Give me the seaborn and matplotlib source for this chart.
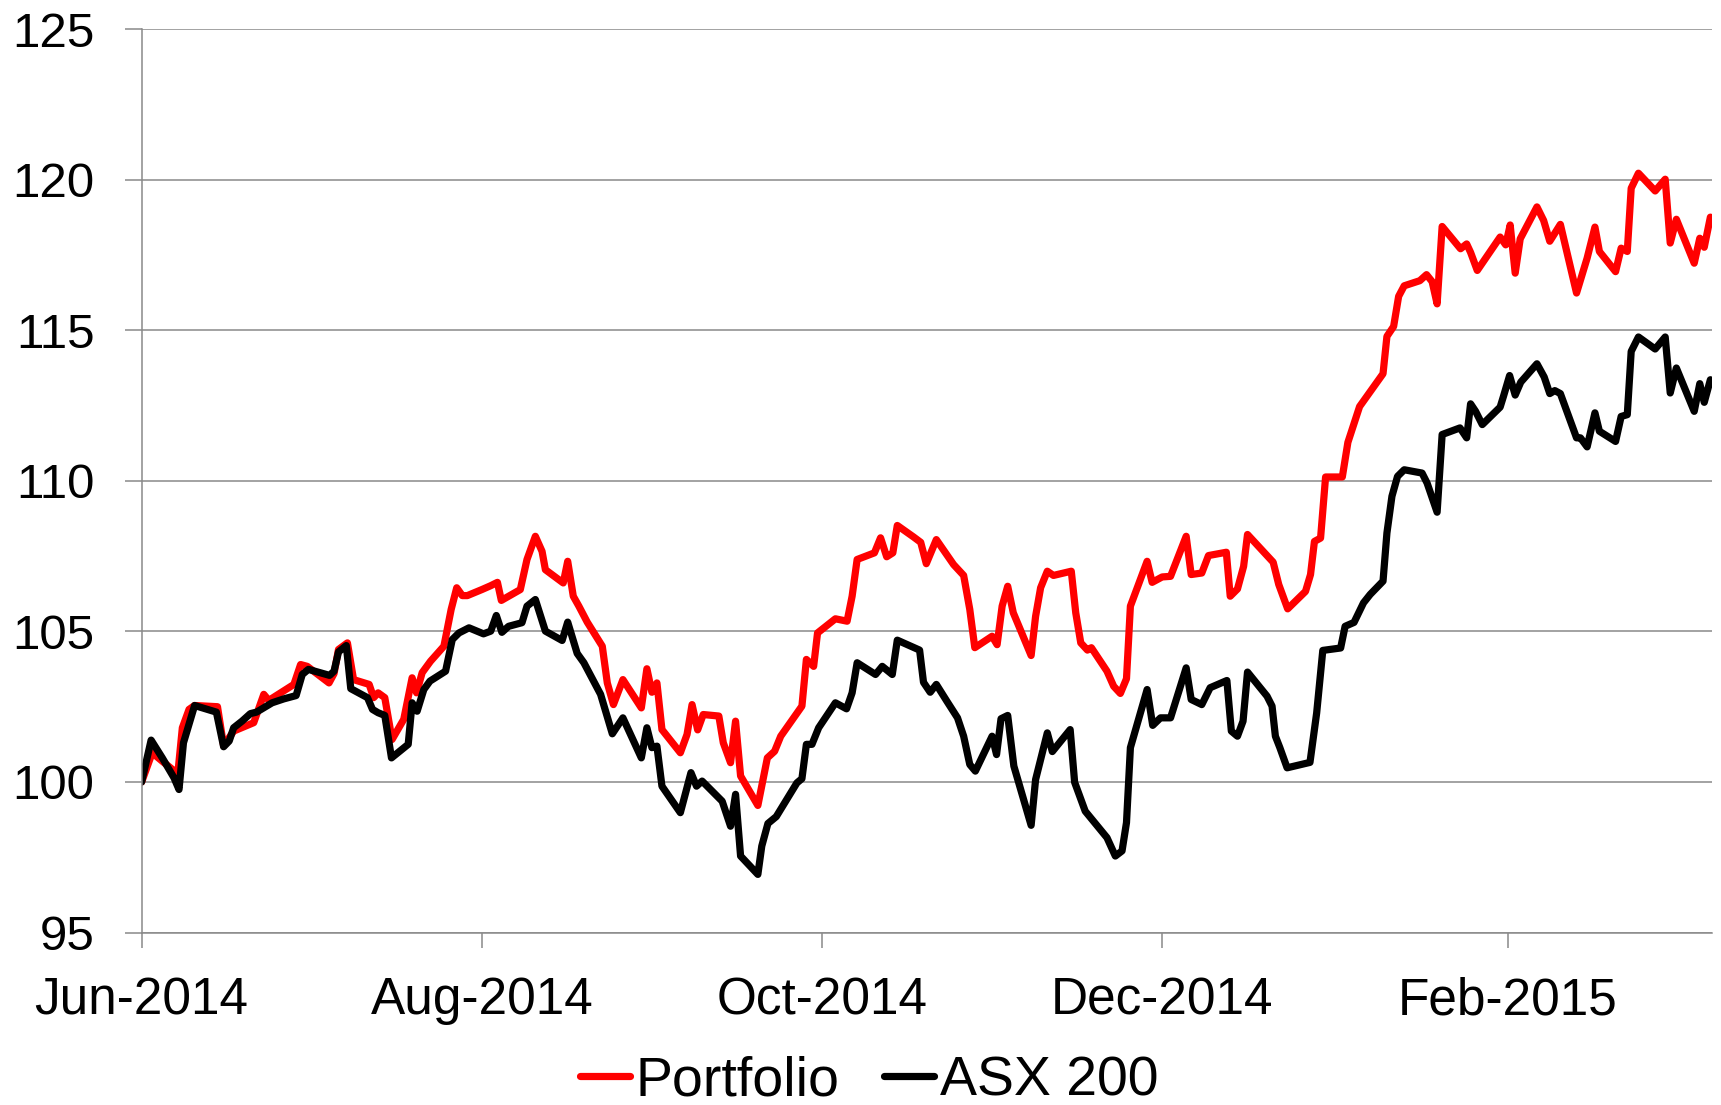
import pandas as pd
import numpy as np
import matplotlib
matplotlib.use("Agg")
import matplotlib.pyplot as plt
import matplotlib.dates as mdates
from matplotlib.lines import Line2D
import seaborn as sns

# Data: days since 2014-06-01 and index value (start = 100)
start_date = "2014-06-01"

portfolio_days = [
    0, 1.9, 3.7, 5.5, 6.5, 7.3, 8.5, 9.5, 13.6, 14.7, 16.5, 20.1, 21.9, 22.8, 27.3,
    28.5, 29.7, 33.6, 34.5, 35.3, 36.9, 38.0, 40.8, 41.6, 42.4, 43.6, 44.9, 47.0,
    48.5, 49.3, 50.3, 51.8, 54.2, 55.5, 56.5, 57.5, 58.4, 61.0, 62.6, 63.8, 64.5,
    67.9, 69.1, 70.6, 71.8, 72.4, 75.6, 76.4, 77.4, 78.4, 79.9, 82.6, 83.5, 84.6,
    86.3, 89.6, 90.6, 91.5, 92.4, 93.3, 96.6, 97.8, 98.7, 99.7, 100.7, 103.5, 104.3,
    105.6, 106.5, 107.4, 110.5, 112.2, 113.5, 114.6, 118.4, 119.2, 120.5, 121.2,
    124.4, 126.5, 127.4, 128.3, 131.4, 132.5, 133.6, 134.7, 135.5, 138.4, 139.7,
    140.7, 142.5, 145.6, 147.4, 148.5, 149.4, 152.5, 153.4, 154.3, 155.3, 156.3,
    159.5, 160.3, 161.2, 162.4, 163.5, 166.7, 167.5, 168.4, 169.6, 170.3, 173.1,
    174.3, 175.5, 176.6, 177.3, 180.3, 181.2, 183.0, 184.5, 187.3, 188.2, 190.1,
    191.3, 194.5, 195.2, 196.5, 197.6, 198.3, 201.9, 202.9, 203.9, 205.5, 208.7,
    209.6, 210.3, 211.4, 212.3, 215.3, 216.3, 218.4, 222.6, 223.3, 224.5, 225.4,
    226.4, 229.2, 230.4, 231.4, 232.3, 233.2, 236.5, 237.6, 238.3, 239.5, 243.6,
    244.6, 245.4, 246.3, 247.2, 250.2, 251.4, 252.5, 254.4, 257.3, 259.2, 260.6,
    261.4, 264.3, 265.3, 266.4, 267.1, 268.4, 271.4, 273.2, 274.1, 275.2, 278.4,
    279.4, 280.2, 281.3,
]
portfolio_vals = [
    100.0, 100.97, 100.69, 100.42, 100.3, 101.8, 102.41, 102.54, 102.5, 101.2,
    101.69, 101.97, 102.91, 102.71, 103.24, 103.9, 103.84, 103.29, 103.6, 104.4,
    104.62, 103.4, 103.24, 102.8, 102.96, 102.8, 101.41, 102.08, 103.46, 102.96,
    103.63, 104.01, 104.51, 105.73, 106.45, 106.19, 106.19, 106.39, 106.52, 106.63,
    106.03, 106.39, 107.39, 108.16, 107.66, 107.05, 106.61, 107.33, 106.17, 105.84,
    105.31, 104.51, 103.29, 102.57, 103.4, 102.46, 103.76, 102.98, 103.29, 101.74,
    100.97, 101.58, 102.57, 101.73, 102.24, 102.19, 101.3, 100.64, 102.02, 100.2,
    99.22, 100.8, 101.02, 101.52, 102.52, 104.07, 103.84, 104.95, 105.42, 105.34,
    106.17, 107.39, 107.61, 108.11, 107.48, 107.61, 108.52, 108.14, 107.96, 107.25,
    108.05, 107.22, 106.86, 105.73, 104.46, 104.84, 104.56, 105.84, 106.5, 105.62,
    104.2, 105.5, 106.45, 107.0, 106.86, 107.0, 105.62, 104.62, 104.38, 104.46,
    103.68, 103.18, 102.94, 103.43, 105.84, 107.33, 106.63, 106.81, 106.83, 108.16,
    106.89, 106.94, 107.52, 107.63, 106.17, 106.41, 107.16, 108.22, 107.5, 107.3,
    106.56, 105.75, 106.33, 106.89, 107.99, 108.1, 110.13, 110.13, 111.28, 112.47,
    113.56, 114.8, 115.13, 116.13, 116.48, 116.65, 116.85, 116.62, 115.88, 118.45,
    117.71, 117.87, 117.59, 116.99, 118.1, 117.84, 118.5, 116.9, 118.04, 119.1,
    118.65, 117.96, 118.52, 116.24, 117.4, 118.43, 117.62, 116.95, 117.73, 117.62,
    119.72, 120.22, 119.63, 120.02, 117.9, 118.69, 117.23, 118.06, 117.76, 118.76,
]

asx_days = [
    0, 1.7, 3.7, 5.8, 6.7, 7.5, 9.5, 13.4, 14.7, 15.7, 16.5, 18.0, 19.5, 20.6, 23.4,
    25.5, 27.7, 28.8, 29.9, 33.7, 34.5, 35.3, 36.7, 37.5, 40.5, 41.4, 42.4, 43.6,
    44.8, 47.8, 48.5, 49.4, 50.6, 51.7, 54.5, 55.7, 56.9, 58.7, 61.3, 62.6, 63.6,
    64.6, 65.8, 68.2, 69.1, 70.6, 72.4, 75.4, 76.4, 78.1, 79.3, 82.3, 84.4, 86.3,
    89.6, 90.6, 91.5, 92.4, 93.3, 96.6, 98.5, 99.5, 100.5, 104.1, 105.6, 106.5,
    107.4, 110.5, 111.2, 112.3, 113.8, 117.5, 118.4, 119.2, 120.2, 121.4, 124.4,
    126.4, 127.4, 128.3, 131.6, 132.8, 134.6, 135.5, 139.5, 140.2, 141.4, 142.5,
    144.4, 146.3, 147.4, 148.5, 149.5, 152.5, 153.3, 154.1, 155.3, 156.4, 159.5,
    160.3, 162.4, 163.3, 166.5, 167.3, 169.2, 173.1, 174.6, 175.8, 176.6, 177.3,
    180.3, 181.3, 182.7, 184.5, 187.3, 188.2, 190.1, 191.6, 194.6, 195.4, 196.5,
    197.5, 198.3, 201.8, 202.7, 203.3, 204.1, 205.4, 209.5, 210.7, 211.8, 215.0,
    215.8, 217.4, 219.1, 220.3, 222.6, 223.3, 224.2, 225.2, 226.4, 229.6, 230.5,
    232.3, 233.2, 236.4, 237.6, 238.3, 239.2, 240.4, 243.6, 244.2, 245.3, 246.3,
    247.3, 250.2, 251.5, 252.5, 253.4, 254.4, 257.3, 258.0, 259.2, 260.6, 261.4,
    264.3, 265.3, 266.4, 267.1, 268.4, 271.4, 273.2, 274.1, 275.2, 278.4, 279.4,
    280.2, 281.3,
]
asx_vals = [
    100.0, 101.39, 100.8, 100.14, 99.75, 101.3, 102.54, 102.32, 101.17, 101.36,
    101.8, 102.02, 102.27, 102.32, 102.63, 102.76, 102.87, 103.57, 103.74, 103.54,
    103.68, 104.32, 104.53, 103.1, 102.8, 102.41, 102.3, 102.21, 100.8, 101.25,
    102.63, 102.35, 103.07, 103.35, 103.68, 104.73, 104.95, 105.12, 104.92, 105.01,
    105.53, 104.97, 105.17, 105.29, 105.84, 106.06, 105.01, 104.7, 105.31, 104.27,
    103.96, 102.91, 101.6, 102.13, 100.8, 101.8, 101.14, 101.19, 99.86, 98.98,
    100.31, 99.86, 100.03, 99.36, 98.53, 99.59, 97.54, 96.93, 97.87, 98.62, 98.85,
    99.97, 100.11, 101.25, 101.25, 101.8, 102.63, 102.43, 102.96, 103.96, 103.57,
    103.84, 103.57, 104.71, 104.38, 103.31, 102.98, 103.24, 102.68, 102.13, 101.52,
    100.58, 100.36, 101.52, 100.91, 102.1, 102.21, 100.53, 98.56, 100.08, 101.63,
    101.01, 101.74, 99.99, 99.03, 98.15, 97.54, 97.71, 98.65, 101.14, 103.07,
    101.88, 102.13, 102.13, 103.79, 102.74, 102.57, 103.13, 103.37, 101.69, 101.52,
    102.02, 103.65, 102.85, 102.52, 101.52, 101.14, 100.47, 100.65, 102.29, 104.37,
    104.45, 105.17, 105.3, 105.95, 106.23, 106.67, 108.27, 109.49, 110.15, 110.37,
    110.26, 109.93, 108.96, 111.54, 111.76, 111.43, 112.56, 112.31, 111.87, 112.45,
    112.81, 113.5, 112.85, 113.28, 113.89, 113.45, 112.9, 113.0, 112.9, 111.43,
    111.43, 111.13, 112.26, 111.65, 111.31, 112.14, 112.2, 114.3, 114.78, 114.38,
    114.78, 112.92, 113.75, 112.31, 113.23, 112.61, 113.36,
]

series_names = ["Portfolio", "ASX 200"]
series_colors = ["#FF0000", "#000000"]
month_ticks = ["2014-06-01", "2014-08-01", "2014-10-01", "2014-12-01", "2015-02-01"]
y_ticks = [95, 100, 105, 110, 115, 120, 125]


def build_frame():
    t0 = pd.Timestamp(start_date)
    parts = []
    for name, days, vals in [("Portfolio", portfolio_days, portfolio_vals),
                             ("ASX 200", asx_days, asx_vals)]:
        parts.append(pd.DataFrame({
            "Date": t0 + pd.to_timedelta(days, unit="D"),
            "Value": vals,
            "Series": name,
        }))
    return pd.concat(parts, ignore_index=True)


def main():
    df = build_frame()

    sns.set_style("white")
    plt.rcParams["font.family"] = ["Liberation Sans", "DejaVu Sans"]
    plt.rcParams["text.color"] = "black"

    fig = plt.figure(figsize=(17.21, 11.05), dpi=100)
    ax = fig.add_axes([0.0823, 0.1561, 0.9125, 0.8174])

    grid_col = "#898989"
    lw = 5.2
    sns.lineplot(data=df, x="Date", y="Value", hue="Series",
                 hue_order=series_names, palette=series_colors,
                 estimator=None, sort=False, linewidth=lw, legend=False, ax=ax,
                 solid_joinstyle="round", solid_capstyle="round")

    ax.set_ylim(95, 125)
    ax.set_yticks(y_ticks)
    t0 = pd.Timestamp(start_date)
    ax.set_xlim(t0, t0 + pd.Timedelta(days=281.6))
    ax.set_xticks(pd.to_datetime(month_ticks))
    ax.xaxis.set_major_formatter(mdates.DateFormatter("%b-%Y"))

    ax.set_xlabel("")
    ax.set_ylabel("")
    ax.grid(axis="y", color=grid_col, linewidth=1.1)
    ax.grid(axis="x", visible=False)
    ax.set_axisbelow(True)
    for side in ["top", "right"]:
        ax.spines[side].set_visible(False)
    for side in ["left", "bottom"]:
        ax.spines[side].set_color(grid_col)
        ax.spines[side].set_linewidth(1.1)

    ax.tick_params(axis="y", direction="out", length=12, width=1.1,
                   color=grid_col, labelcolor="black", labelsize=35.5, pad=22, left=True)
    ax.tick_params(axis="x", direction="out", length=10.5, width=1.1,
                   color=grid_col, labelcolor="black", labelsize=37, pad=21, bottom=True)

    handles = [Line2D([], [], color=c, linewidth=lw, solid_capstyle="round")
               for c in series_colors]
    fig.legend(handles, series_names, loc="center", bbox_to_anchor=(0.505, 0.021),
               ncol=2, frameon=False, fontsize=40, handlelength=0.9,
               handletextpad=0.1, columnspacing=0.8, borderpad=0,
               labelcolor="black")

    fig.savefig("out.png", dpi=100)
    plt.close(fig)


if __name__ == "__main__":
    main()
